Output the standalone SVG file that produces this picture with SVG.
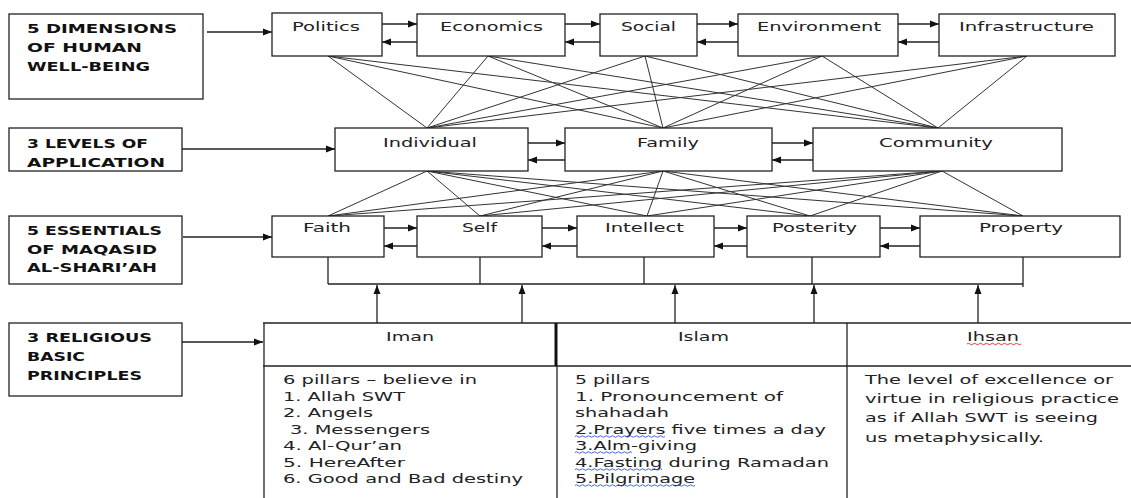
<svg xmlns="http://www.w3.org/2000/svg" width="1131" height="498" viewBox="0 0 1131 498">
<style>
.box{fill:#fff;stroke:#222;stroke-width:1.3}
.ln{stroke:#222;stroke-width:1.3;fill:none}
.x{stroke:#333;stroke-width:1;fill:none}
.lab{font-family:"DejaVu Sans",sans-serif;font-weight:bold;font-size:13px;fill:#111}
.t{font-family:"DejaVu Sans",sans-serif;font-size:12px;fill:#222}
.b{font-family:"DejaVu Sans",sans-serif;font-size:12.5px;fill:#222}
.bi{font-family:"DejaVu Sans",sans-serif;font-size:13px;fill:#222}
.arr{marker-end:url(#ah)}
.wb{stroke:#3355dd;stroke-width:0.9;fill:none}
.wr{stroke:#dd2222;stroke-width:0.9;fill:none}
</style>
<defs>
<marker id="ah" markerWidth="10" markerHeight="8" refX="9" refY="4" orient="auto" markerUnits="userSpaceOnUse">
<path d="M0,0.5 L9,4 L0,7.5 Z" fill="#111"/>
</marker>
</defs>
<rect width="1131" height="498" fill="#fff"/>

<g id="connectors">
<!-- dimensions to levels -->
<line class="x" x1="328" y1="56" x2="427" y2="128"/>
<line class="x" x1="328" y1="56" x2="663" y2="128"/>
<line class="x" x1="328" y1="56" x2="938" y2="128"/>
<line class="x" x1="488" y1="56" x2="427" y2="128"/>
<line class="x" x1="488" y1="56" x2="663" y2="128"/>
<line class="x" x1="488" y1="56" x2="938" y2="128"/>
<line class="x" x1="645" y1="56" x2="427" y2="128"/>
<line class="x" x1="645" y1="56" x2="663" y2="128"/>
<line class="x" x1="645" y1="56" x2="938" y2="128"/>
<line class="x" x1="822" y1="56" x2="427" y2="128"/>
<line class="x" x1="822" y1="56" x2="663" y2="128"/>
<line class="x" x1="822" y1="56" x2="938" y2="128"/>
<line class="x" x1="1027" y1="56" x2="427" y2="128"/>
<line class="x" x1="1027" y1="56" x2="663" y2="128"/>
<line class="x" x1="1027" y1="56" x2="938" y2="128"/>
<!-- levels to essentials -->
<line class="x" x1="427" y1="171" x2="328" y2="216"/>
<line class="x" x1="427" y1="171" x2="480" y2="216"/>
<line class="x" x1="427" y1="171" x2="647" y2="216"/>
<line class="x" x1="427" y1="171" x2="810" y2="216"/>
<line class="x" x1="427" y1="171" x2="1023" y2="216"/>
<line class="x" x1="663" y1="171" x2="328" y2="216"/>
<line class="x" x1="663" y1="171" x2="480" y2="216"/>
<line class="x" x1="663" y1="171" x2="647" y2="216"/>
<line class="x" x1="663" y1="171" x2="810" y2="216"/>
<line class="x" x1="663" y1="171" x2="1023" y2="216"/>
<line class="x" x1="942" y1="171" x2="328" y2="216"/>
<line class="x" x1="942" y1="171" x2="480" y2="216"/>
<line class="x" x1="942" y1="171" x2="647" y2="216"/>
<line class="x" x1="942" y1="171" x2="810" y2="216"/>
<line class="x" x1="942" y1="171" x2="1023" y2="216"/>

<!-- label arrows -->
<line class="ln arr" x1="207" y1="32" x2="272" y2="32"/>
<line class="ln arr" x1="175" y1="149" x2="335" y2="149"/>
<line class="ln arr" x1="183" y1="237" x2="272" y2="237"/>
<line class="ln arr" x1="182" y1="342" x2="263" y2="342"/>

<!-- top row pairs -->
<line class="ln arr" x1="382" y1="24" x2="417" y2="24"/>
<line class="ln arr" x1="423" y1="42" x2="382" y2="42"/>
<line class="ln arr" x1="565" y1="24" x2="600" y2="24"/>
<line class="ln arr" x1="602" y1="42" x2="565" y2="42"/>
<line class="ln arr" x1="697" y1="24" x2="738" y2="24"/>
<line class="ln arr" x1="740" y1="42" x2="697" y2="42"/>
<line class="ln arr" x1="898" y1="24" x2="939" y2="24"/>
<line class="ln arr" x1="941" y1="42" x2="898" y2="42"/>

<!-- level row pairs -->
<line class="ln arr" x1="528" y1="143" x2="565" y2="143"/>
<line class="ln arr" x1="571" y1="160" x2="528" y2="160"/>
<line class="ln arr" x1="772" y1="143" x2="813" y2="143"/>
<line class="ln arr" x1="813" y1="160" x2="772" y2="160"/>

<!-- essentials pairs -->
<line class="ln arr" x1="384" y1="228" x2="417" y2="228"/>
<line class="ln arr" x1="426" y1="246" x2="384" y2="246"/>
<line class="ln arr" x1="540" y1="228" x2="577" y2="228"/>
<line class="ln arr" x1="582" y1="246" x2="542" y2="246"/>
<line class="ln arr" x1="714" y1="228" x2="747" y2="228"/>
<line class="ln arr" x1="755" y1="246" x2="714" y2="246"/>
<line class="ln arr" x1="880" y1="228" x2="920" y2="228"/>
<line class="ln arr" x1="920" y1="246" x2="880" y2="246"/>

<!-- bracket under essentials -->
<line class="ln" x1="328" y1="257" x2="328" y2="284"/>
<line class="ln" x1="480" y1="257" x2="480" y2="284"/>
<line class="ln" x1="644" y1="257" x2="644" y2="284"/>
<line class="ln" x1="812" y1="257" x2="812" y2="284"/>
<line class="ln" x1="1023" y1="257" x2="1023" y2="287"/>
<line class="ln" x1="328" y1="284" x2="1023" y2="284"/>

<!-- up arrows from principles -->
<line class="ln arr" x1="377" y1="323" x2="377" y2="285"/>
<line class="ln arr" x1="522" y1="323" x2="522" y2="285"/>
<line class="ln arr" x1="675" y1="323" x2="675" y2="285"/>
<line class="ln arr" x1="814" y1="323" x2="814" y2="285"/>
<line class="ln arr" x1="978" y1="323" x2="978" y2="285"/>
</g>

<!-- label boxes -->
<g id="label-dimensions">
<rect class="box" x="9" y="14" width="194" height="85"/>
<text class="lab" x="27" y="33" textLength="150" lengthAdjust="spacingAndGlyphs">5 DIMENSIONS</text>
<text class="lab" x="27" y="52" textLength="115" lengthAdjust="spacingAndGlyphs">OF HUMAN</text>
<text class="lab" x="27" y="71" textLength="123" lengthAdjust="spacingAndGlyphs">WELL-BEING</text>
</g>
<g id="label-levels">
<rect class="box" x="9" y="128" width="173" height="43"/>
<text class="lab" x="27" y="148" textLength="121" lengthAdjust="spacingAndGlyphs">3 LEVELS OF</text>
<text class="lab" x="27" y="167" textLength="138" lengthAdjust="spacingAndGlyphs">APPLICATION</text>
</g>
<g id="label-essentials">
<rect class="box" x="9" y="216" width="173" height="68"/>
<text class="lab" x="27" y="235" textLength="135" lengthAdjust="spacingAndGlyphs">5 ESSENTIALS</text>
<text class="lab" x="27" y="254" textLength="130" lengthAdjust="spacingAndGlyphs">OF MAQASID</text>
<text class="lab" x="27" y="272" textLength="130" lengthAdjust="spacingAndGlyphs">AL-SHARI’AH</text>
</g>
<g id="label-principles">
<rect class="box" x="9" y="323" width="173" height="73"/>
<text class="lab" x="27" y="342" textLength="125" lengthAdjust="spacingAndGlyphs">3 RELIGIOUS</text>
<text class="lab" x="27" y="361" textLength="58" lengthAdjust="spacingAndGlyphs">BASIC</text>
<text class="lab" x="27" y="380" textLength="115" lengthAdjust="spacingAndGlyphs">PRINCIPLES</text>
</g>

<!-- dimensions -->
<g id="politics"><rect class="box" x="272" y="13" width="110" height="43"/><text class="t" x="292" y="31" textLength="68" lengthAdjust="spacingAndGlyphs">Politics</text></g>
<g id="economics"><rect class="box" x="417" y="14" width="148" height="42"/><text class="t" x="440" y="31" textLength="103" lengthAdjust="spacingAndGlyphs">Economics</text></g>
<g id="social"><rect class="box" x="600" y="14" width="97" height="42"/><text class="t" x="621" y="31" textLength="55" lengthAdjust="spacingAndGlyphs">Social</text></g>
<g id="environment"><rect class="box" x="738" y="14" width="160" height="42"/><text class="t" x="757" y="31" textLength="124" lengthAdjust="spacingAndGlyphs">Environment</text></g>
<g id="infrastructure"><rect class="box" x="939" y="14" width="176" height="42"/><text class="t" x="959" y="31" textLength="135" lengthAdjust="spacingAndGlyphs">Infrastructure</text></g>

<!-- levels -->
<g id="individual"><rect class="box" x="335" y="128" width="193" height="43"/><text class="t" x="383" y="147" textLength="94" lengthAdjust="spacingAndGlyphs">Individual</text></g>
<g id="family"><rect class="box" x="565" y="128" width="207" height="43"/><text class="t" x="637" y="147" textLength="62" lengthAdjust="spacingAndGlyphs">Family</text></g>
<g id="community"><rect class="box" x="813" y="128" width="249" height="43"/><text class="t" x="879" y="147" textLength="114" lengthAdjust="spacingAndGlyphs">Community</text></g>

<!-- essentials -->
<g id="faith"><rect class="box" x="272" y="216" width="112" height="41"/><text class="t" x="303" y="232" textLength="48" lengthAdjust="spacingAndGlyphs">Faith</text></g>
<g id="self"><rect class="box" x="417" y="216" width="125" height="41"/><text class="t" x="462" y="232" textLength="35" lengthAdjust="spacingAndGlyphs">Self</text></g>
<g id="intellect"><rect class="box" x="577" y="216" width="137" height="41"/><text class="t" x="605" y="232" textLength="79" lengthAdjust="spacingAndGlyphs">Intellect</text></g>
<g id="posterity"><rect class="box" x="747" y="216" width="133" height="41"/><text class="t" x="772" y="232" textLength="85" lengthAdjust="spacingAndGlyphs">Posterity</text></g>
<g id="property"><rect class="box" x="920" y="216" width="200" height="41"/><text class="t" x="979" y="232" textLength="84" lengthAdjust="spacingAndGlyphs">Property</text></g>

<!-- principles table -->
<g id="principles-table">
<line class="ln" x1="263" y1="323" x2="1131" y2="323"/>
<line class="ln" x1="263" y1="366" x2="1131" y2="366"/>
<line class="ln" x1="264" y1="323" x2="264" y2="498"/>
<line stroke="#111" stroke-width="3" x1="556" y1="323" x2="556" y2="366"/>
<line class="ln" x1="557" y1="366" x2="557" y2="498"/>
<line class="ln" x1="847" y1="323" x2="847" y2="498"/>
</g>
<g id="iman">
<text class="t" x="386" y="341" textLength="48" lengthAdjust="spacingAndGlyphs">Iman</text>
<text class="b" x="283" y="384" textLength="194" lengthAdjust="spacingAndGlyphs">6 pillars – believe in</text>
<text class="b" x="283" y="401" textLength="122" lengthAdjust="spacingAndGlyphs">1. Allah SWT</text>
<text class="b" x="283" y="417" textLength="90" lengthAdjust="spacingAndGlyphs">2. Angels</text>
<text class="b" x="290" y="434" textLength="140" lengthAdjust="spacingAndGlyphs">3. Messengers</text>
<text class="b" x="283" y="450" textLength="119" lengthAdjust="spacingAndGlyphs">4. Al-Qur’an</text>
<text class="b" x="283" y="467" textLength="122" lengthAdjust="spacingAndGlyphs">5. HereAfter</text>
<text class="b" x="283" y="483" textLength="240" lengthAdjust="spacingAndGlyphs">6. Good and Bad destiny</text>
</g>
<g id="islam">
<text class="t" x="678" y="341" textLength="51" lengthAdjust="spacingAndGlyphs">Islam</text>
<text class="b" x="575" y="384" textLength="75" lengthAdjust="spacingAndGlyphs">5 pillars</text>
<text class="b" x="575" y="401" textLength="208" lengthAdjust="spacingAndGlyphs">1. Pronouncement of</text>
<text class="b" x="575" y="417" textLength="94" lengthAdjust="spacingAndGlyphs">shahadah</text>
<text class="b" x="575" y="434" textLength="251" lengthAdjust="spacingAndGlyphs">2.Prayers five times a day</text>
<text class="b" x="575" y="450" textLength="122" lengthAdjust="spacingAndGlyphs">3.Alm-giving</text>
<text class="b" x="575" y="467" textLength="254" lengthAdjust="spacingAndGlyphs">4.Fasting during Ramadan</text>
<text class="b" x="575" y="483" textLength="120" lengthAdjust="spacingAndGlyphs">5.Pilgrimage</text>
<path class="wb" d="M575,436.5 q1.5,-1.5 3,0 t3,0 t3,0 t3,0 t3,0 t3,0 t3,0 t3,0 t3,0 t3,0 t3,0 t3,0 t3,0 t3,0 t3,0 t3,0 t3,0 t3,0 t3,0 t3,0 t3,0 t3,0 t3,0 t3,0 t3,0 t3,0 t3,0 t3,0 t3,0 t3,0"/>
<path class="wb" d="M575,452.5 q1.5,-1.5 3,0 t3,0 t3,0 t3,0 t3,0 t3,0 t3,0 t3,0 t3,0 t3,0 t3,0 t3,0 t3,0 t3,0 t3,0 t3,0 t3,0 t3,0 t3,0"/>
<path class="wb" d="M575,469.5 q1.5,-1.5 3,0 t3,0 t3,0 t3,0 t3,0 t3,0 t3,0 t3,0 t3,0 t3,0 t3,0 t3,0 t3,0 t3,0 t3,0 t3,0 t3,0 t3,0 t3,0 t3,0 t3,0 t3,0 t3,0 t3,0 t3,0 t3,0 t3,0 t3,0 t3,0"/>
<path class="wb" d="M575,485.5 q1.5,-1.5 3,0 t3,0 t3,0 t3,0 t3,0 t3,0 t3,0 t3,0 t3,0 t3,0 t3,0 t3,0 t3,0 t3,0 t3,0 t3,0 t3,0 t3,0 t3,0 t3,0 t3,0 t3,0 t3,0 t3,0 t3,0 t3,0 t3,0 t3,0 t3,0 t3,0 t3,0 t3,0 t3,0 t3,0 t3,0 t3,0 t3,0 t3,0 t3,0 t3,0"/>
</g>
<g id="ihsan">
<text class="t" x="967" y="341" textLength="52" lengthAdjust="spacingAndGlyphs">Ihsan</text>
<path class="wr" d="M967,344 q1.5,-1.5 3,0 t3,0 t3,0 t3,0 t3,0 t3,0 t3,0 t3,0 t3,0 t3,0 t3,0 t3,0 t3,0 t3,0 t3,0 t3,0 t3,0 t3,0"/>
<text class="bi" x="865" y="384" textLength="248" lengthAdjust="spacingAndGlyphs">The level of excellence or</text>
<text class="bi" x="865" y="403" textLength="254" lengthAdjust="spacingAndGlyphs">virtue in religious practice</text>
<text class="bi" x="865" y="422" textLength="233" lengthAdjust="spacingAndGlyphs">as if Allah SWT is seeing</text>
<text class="bi" x="865" y="442" textLength="179" lengthAdjust="spacingAndGlyphs">us metaphysically.</text>
</g>
</svg>
